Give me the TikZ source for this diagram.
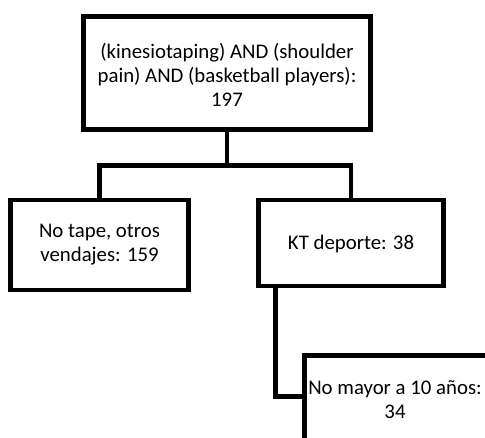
\documentclass[tikz,border=0pt]{standalone}
\usepackage{fontspec}
\setmainfont{Carlito}
\usetikzlibrary{calc}
\begin{document}
\begin{tikzpicture}[x=1pt,y=-1pt,
  boxnode/.style={draw=black,line width=4.5pt,line join=miter,inner sep=0pt,fill=white},
  txt/.style={inner sep=0pt,align=center,font=\fontsize{20.8}{24}\selectfont},
  link/.style={draw=black,line width=4.5pt,line join=miter}]
\useasboundingbox (0,0) rectangle (485,437);
\clip (0,0) rectangle (485,437);
\fill[white] (0,0) rectangle (485,437);
\node[boxnode,minimum width=287pt,minimum height=113pt] (top) at (227,73) {};
\node[txt] (toptxt) at (227,75) {(kinesiotaping) AND (shoulder\\pain) AND (basketball players):\\197};
\node[boxnode,minimum width=178pt,minimum height=90pt] (left) at (99.5,245) {};
\node[txt] (lefttxt) at (99.5,245) {No tape, otros\\vendajes: 159};
\node[boxnode,minimum width=185pt,minimum height=86pt] (right) at (351,243) {};
\node[txt] (righttxt) at (351,244) {KT deporte: 38};
\node[boxnode,minimum width=200pt,minimum height=130pt] (bot) at (404.5,420.5) {};
\coordinate (bar) at (227,165.5);
\coordinate (kt) at ($(right.south west)+(19,0)$);
\coordinate (botin) at ($(bot.north west)+(0,43)$);
\draw[link] (top.south) -- (bar);
\draw[link] (left.north) |- (bar) -| (right.north);
\draw[link] (kt) |- (botin);
\node[txt] (bottxt) at (395,400) {No mayor a 10 años:\\34};
\end{tikzpicture}
\end{document}
